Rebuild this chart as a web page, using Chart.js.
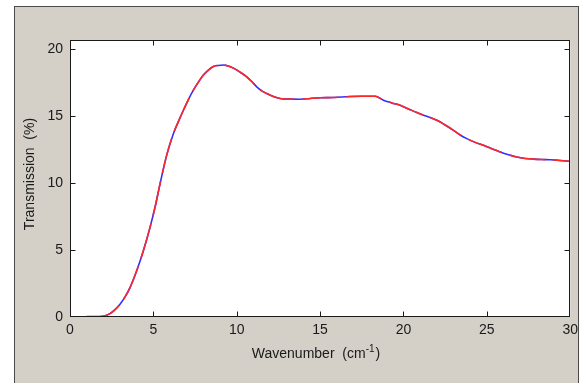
<!DOCTYPE html>
<html><head><meta charset="utf-8">
<script src="https://cdn.jsdelivr.net/npm/chart.js@4"></script>
<style>
html,body{margin:0;padding:0;background:#fff;width:583px;height:383px;overflow:hidden}
#panel{position:absolute;left:14px;top:6px;width:565px;height:400px;background:#d4d0c8;border:1px solid #4a4a4a;box-sizing:border-box}
canvas{position:absolute;left:0;top:0}
</style></head><body>
<div id="panel"></div>
<canvas id="c" width="583" height="383"></canvas>
<script>
const wavenumber = [1.0,1.5,2.0,2.4,2.7,3.0,3.3,3.6,4.0,4.4,4.8,5.1,5.4,5.8,6.2,6.5,6.8,7.1,7.4,7.7,8.0,8.3,8.6,8.9,9.2,9.5,9.8,10.2,10.6,10.9,11.2,11.5,11.8,12.2,12.6,13.2,13.8,14.4,15.0,15.8,16.8,17.5,18.3,18.8,19.3,19.8,20.3,20.8,21.4,22.0,22.5,23.0,23.4,23.8,24.3,24.8,25.3,25.8,26.3,26.8,27.3,27.8,28.3,28.8,29.4,30.0];
const transmission = [0.0,0.0,0.05,0.25,0.55,0.95,1.5,2.2,3.45,4.95,6.7,8.2,9.95,12.1,13.7,14.6,15.45,16.25,16.95,17.55,18.08,18.45,18.72,18.8,18.83,18.75,18.6,18.3,17.95,17.6,17.2,16.9,16.7,16.48,16.33,16.28,16.27,16.33,16.38,16.4,16.48,16.5,16.5,16.2,16.0,15.82,15.55,15.28,15.0,14.7,14.35,13.95,13.6,13.33,13.05,12.83,12.58,12.33,12.12,11.95,11.85,11.8,11.77,11.75,11.7,11.63];
const baselineX = [1.0, 1.96];
const baselineY = [0, 0];
const xTicks = [0,5,10,15,20,25,30];
const yTicks = [0,5,10,15,20];
const xTitle = 'Wavenumber  (cm';
const xTitleSup = '-1';
const xTitleEnd = ')';
const yTitle = 'Transmission  (%)';

const FONT = 'Arial, "Liberation Sans", sans-serif';
const pts = wavenumber.map((x,i)=>({x, y: transmission[i]}));
const basePts = baselineX.map((x,i)=>({x, y: baselineY[i]}));

const frame = {
  id:'frame',
  beforeDatasetsDraw(chart){
    const {ctx, chartArea:a} = chart;
    ctx.save(); ctx.fillStyle='#fff';
    ctx.fillRect(a.left, a.top, a.right-a.left, a.bottom-a.top);
    ctx.restore();
  },
  afterDraw(chart){
    const {ctx, chartArea:a, scales} = chart;
    ctx.save();
    ctx.strokeStyle='#1a1a1a'; ctx.lineWidth=1;
    const L=Math.round(a.left)+0.5, R=Math.round(a.right)-0.5, T=Math.round(a.top)+0.5, B=Math.round(a.bottom)-0.5;
    ctx.strokeRect(L, T, R-L, B-T);
    ctx.beginPath();
    const tl=5;
    xTicks.forEach(v=>{
      const px=Math.round(scales.x.getPixelForValue(v))+0.5;
      if (px<=L+1 || px>=R-1) return;
      ctx.moveTo(px,B); ctx.lineTo(px,B-tl);
      ctx.moveTo(px,T); ctx.lineTo(px,T+tl);
    });
    yTicks.forEach(v=>{
      const py=Math.round(scales.y.getPixelForValue(v))+0.5;
      if (py>=B-1 || py<=T-1) return;
      ctx.moveTo(L,py); ctx.lineTo(L+tl,py);
      ctx.moveTo(R,py); ctx.lineTo(R-tl,py);
    });
    ctx.stroke();
    ctx.fillStyle='#1a1a1a';
    ctx.textBaseline='alphabetic';
    ctx.font='14px '+FONT;
    const w1=ctx.measureText(xTitle).width;
    ctx.font='10px '+FONT;
    const w2=ctx.measureText(xTitleSup).width;
    ctx.font='14px '+FONT;
    const w3=ctx.measureText(xTitleEnd).width;
    const total=w1+w2+w3+1;
    let x0=316-total/2; const by=358;
    ctx.textAlign='left';
    ctx.fillText(xTitle,x0,by);
    ctx.font='10px '+FONT;
    ctx.fillText(xTitleSup,x0+w1,by-6);
    ctx.font='14px '+FONT;
    ctx.fillText(xTitleEnd,x0+w1+w2+1,by);
    ctx.save();
    ctx.translate(34,174); ctx.rotate(-Math.PI/2);
    ctx.textAlign='center';
    ctx.font='14px '+FONT;
    ctx.fillText(yTitle,0,0);
    ctx.restore();
    ctx.restore();
  }
};

new Chart(document.getElementById('c'), {
  type:'line',
  data:{datasets:[
    {data:basePts, borderColor:'#8a1010', borderWidth:2.5, pointRadius:0, tension:0, order:0},
    {data:pts, borderColor:'#ff2626', borderWidth:1.6, borderDash:[36,8], pointRadius:0, cubicInterpolationMode:'monotone', order:1},
    {data:pts, borderColor:'#3030ff', borderWidth:1.6, pointRadius:0, cubicInterpolationMode:'monotone', order:2}
  ]},
  options:{
    responsive:false, animation:false, devicePixelRatio:1,
    layout:{padding:{top:40,right:12,left:0,bottom:0}},
    plugins:{legend:{display:false}, tooltip:{enabled:false}},
    scales:{
      x:{type:'linear', min:0, max:30,
        afterBuildTicks:s=>{s.ticks=xTicks.map(v=>({value:v}));},
        afterFit:s=>{s.height=66;},
        grid:{display:false, drawTicks:false}, border:{display:false},
        ticks:{padding:5, autoSkip:false, maxRotation:0, color:'#1a1a1a', font:{family:FONT, size:14}}
      },
      y:{type:'linear', min:0, max:20.7,
        afterBuildTicks:s=>{s.ticks=yTicks.map(v=>({value:v}));},
        afterFit:s=>{s.width=70;},
        grid:{display:false, drawTicks:false}, border:{display:false},
        ticks:{padding:7, color:'#1a1a1a', font:{family:FONT, size:14}}
      }
    }
  },
  plugins:[frame]
});
</script>
</body></html>
